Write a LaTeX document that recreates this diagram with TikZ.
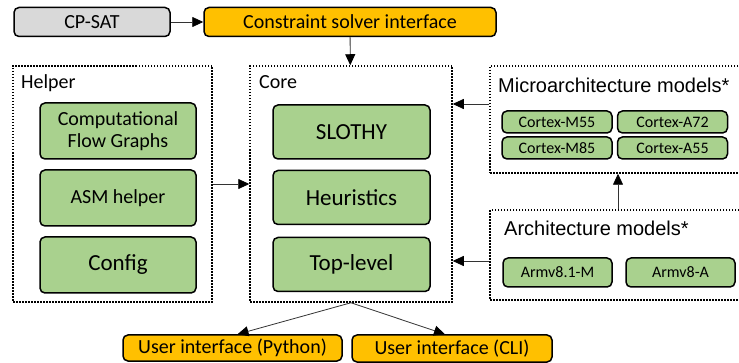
\documentclass[tikz,border=0pt]{standalone}
\usepackage{fontspec}
\setmainfont{Carlito}
\newfontfamily\arialfont{Liberation Sans}
\usetikzlibrary{positioning}
\usetikzlibrary{arrows.meta}
\definecolor{boxgreen}{HTML}{A9D18E}
\definecolor{boxorange}{HTML}{FFC000}
\definecolor{boxgray}{HTML}{D9D9D9}
\def\mysmall{\fontsize{16}{18}\selectfont}
\def\mymid{\fontsize{20}{22}\selectfont}
\def\mybig{\fontsize{23}{25}\selectfont}
\tikzset{
x=1pt,y=-1pt,
>={Triangle[length=11pt,width=10pt,color=black]}, % All arrows with filled triangle
my node/.style={draw,line width=1.5pt,rounded corners=5pt,inner sep=0pt,align=center},
comp/.style={my node,fill=boxgreen},
iface/.style={my node,fill=boxorange,font=\mymid},
extern/.style={my node,fill=boxgray,font=\mymid},
group/.style={draw,line width=1.5pt,dash pattern=on 1.5pt off 1.5pt,inner sep=0pt},
title/.style={anchor=base west,inner sep=0pt,font=\mymid},
links/.style={every edge/.style={draw,line width=0.8pt,black!80}},
helper item/.style={comp,font=\mymid,minimum width=156pt,minimum height=56pt},
core item/.style={comp,font=\mybig,minimum width=157pt,minimum height=54pt},
micro item/.style={comp,font=\mysmall,minimum width=110pt,minimum height=22pt},
arch item/.style={comp,font=\mysmall,minimum width=109pt,minimum height=29pt}
}
\begin{document}
\begin{tikzpicture}
\useasboundingbox (0,0) rectangle (739,363);
% top row
\node[extern,minimum width=156pt,minimum height=29pt] (cpsat) at (92,22) {CP-SAT};
\node[iface,minimum width=292pt,minimum height=29pt] (csi) at (350,22) {Constraint solver interface};
% groups
\node[group,minimum width=199pt,minimum height=236pt] (helper) at (112.5,184) {};
\node[group,minimum width=202pt,minimum height=236pt] (core) at (351,184) {};
\node[group,minimum width=255pt,minimum height=107pt] (micro) at (617.5,119.5) {};
\node[group,minimum width=255pt,minimum height=90pt] (arch) at (617.5,255) {};
\node[title] at (21,89) {Helper};
\node[title] at (259,89) {Core};
\node[title,font=\arialfont\mymid] at (498,93) {Microarchitecture models*};
\node[title,font=\arialfont\mymid] at (504,236) {Architecture models*};
% helper
\node[helper item] (cfg) at (118,131) {Computational\\Flow Graphs};
\node[helper item] (asm) at (118,198) {ASM helper};
\node[helper item,font=\mybig] (conf) at (118,265) {Config};
% core
\node[core item] (slothy) at (351.5,132) {SLOTHY};
\node[core item] (heur) at (351.5,197.5) {Heuristics};
\node[core item] (top) at (351.5,264.5) {Top-level};
% models
\node[micro item] (m55) at (557,122) {Cortex-M55};
\node[micro item] (a72) at (672.5,122) {Cortex-A72};
\node[micro item] (m85) at (557,148) {Cortex-M85};
\node[micro item] (a55) at (672.5,148) {Cortex-A55};
\node[arch item] (v81m) at (557.5,272.5) {Armv8.1-M};
\node[arch item] (v8a) at (680.5,272.5) {Armv8-A};
% user interfaces
\node[iface,minimum width=219pt,minimum height=26pt] (py) at (232.5,348) {User interface (Python)};
\node[iface,minimum width=200pt,minimum height=27pt] (cli) at (452,348.5) {User interface (CLI)};
\path[->,links]
  (cpsat) edge (csi)
  (csi) edge (core)
  (helper) edge (core)
  (micro.west |- 0,104) edge (core.east |- 0,104)
  (arch.west |- 0,261) edge (core.east |- 0,261)
  (arch.north -| 618,0) edge (micro.south -| 618,0)
  (core.south) edge ([xshift=5pt]py.north) edge ([xshift=-7pt]cli.north);
\end{tikzpicture}
\end{document}
